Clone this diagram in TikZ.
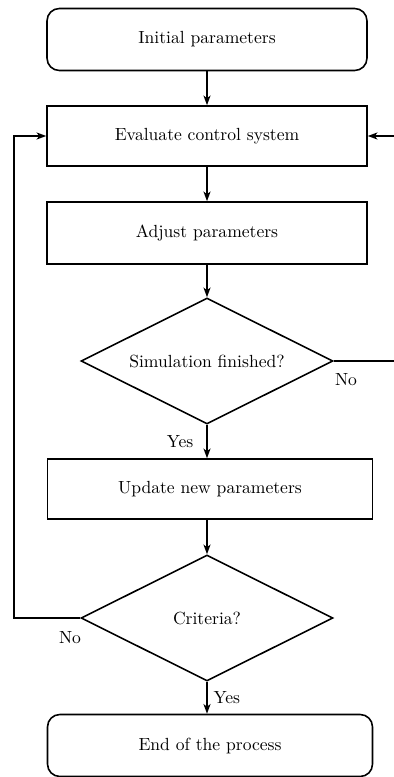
\documentclass[tikz,border=0pt]{standalone}
\usetikzlibrary{arrows.meta,positioning,shapes.geometric}

\begin{document}
\begin{tikzpicture}[x=0.02cm,y=-0.02cm,>={Stealth[length=5.5pt,width=4pt,inset=1.5pt]},line width=0.9pt,
  term/.style={draw,rounded corners=7pt,minimum width=6.4cm,minimum height=1.24cm},
  proc/.style={draw,minimum width=6.4cm,minimum height=1.2cm},
  decide/.style={draw,diamond,aspect=2,inner sep=0pt,minimum width=5.04cm,minimum height=2.52cm}]
  \useasboundingbox (0,0) rectangle (394,777);
  % main column
  \node[term] (init) at (207,39.5) {Initial parameters};
  \node[proc] (eval) at (207,136) {Evaluate control system};
  \node[proc,minimum height=1.24cm] (adjust) at (207,233) {Adjust parameters};
  \node[decide] (sim) at (207,361) {Simulation finished?};
  \node[proc,minimum width=6.5cm] (update) at (210,489) {Update new parameters};
  \node[decide] (crit) at (207,618) {Criteria?};
  \node[term,minimum width=6.5cm] (end) at (210,745.5) {End of the process};
  % flow
  \draw[->] (init) -- (eval);
  \draw[->] (eval) -- (adjust);
  \draw[->] (adjust) -- (sim);
  \draw[->] (sim.south) -- node[left=4pt] (simyes) {Yes} (sim.south |- update.north);
  \draw[->] (crit.north |- update.south) -- (crit.north);
  \draw[->] (crit.south) -- node[right] (crityes) {Yes} (crit.south |- end.north);
  % loops back
  \coordinate (simout) at (397,361);
  \draw[->] (sim.east) -- (simout) |- (eval.east);
  \node (simno) at (346,380) {No};
  \coordinate (critout) at (14,618);
  \draw[->] (crit.west) -- (critout) |- (eval.west);
  \node (critno) at (70,638) {No};
\end{tikzpicture}
\end{document}
